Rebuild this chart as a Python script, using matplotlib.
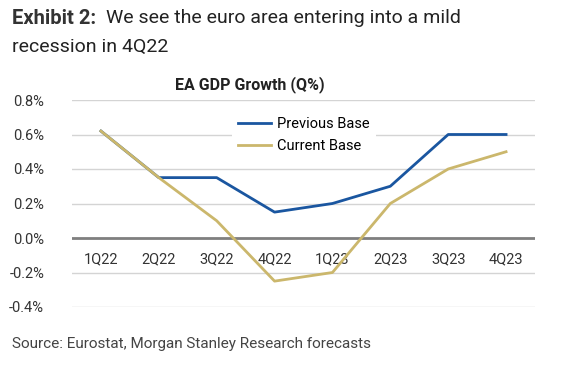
import matplotlib.pyplot as plt
from matplotlib.ticker import FuncFormatter

# data
quarters = ['1Q22', '2Q22', '3Q22', '4Q22', '1Q23', '2Q23', '3Q23', '4Q23']
previous_base = [0.62, 0.35, 0.35, 0.15, 0.20, 0.30, 0.60, 0.60]
current_base = [0.62, 0.35, 0.10, -0.25, -0.20, 0.20, 0.40, 0.50]
y_ticks = [-0.4, -0.2, 0.0, 0.2, 0.4, 0.6, 0.8]

chart_font = ['Roboto', 'DejaVu Sans']
plt.rcParams['font.family'] = ['Roboto', 'DejaVu Sans']

fig = plt.figure(figsize=(5.77, 3.78), dpi=100)
ax = fig.add_axes([72 / 577, 1 - 307 / 378, 463 / 577, 207 / 378])

x = list(range(len(quarters)))
ax.plot(x, previous_base, color='#1a56a0', lw=2, label='Previous Base', zorder=3)
ax.plot(x, current_base, color='#cbb76c', lw=2, label='Current Base', zorder=4)

ax.set_xlim(-0.5, len(quarters) - 0.5)
ax.set_ylim(-0.4, 0.8)
ax.set_yticks(y_ticks)
ax.yaxis.set_major_formatter(FuncFormatter(lambda v, p: f'{v:.1f}%'))
for v in y_ticks:
    if v != 0:
        ax.axhline(v, color='#d4d4d4', lw=1, zorder=1)
ax.axhline(0, color='#7f7f7f', lw=2, zorder=2)

ax.set_xticks(x)
ax.set_xticklabels(quarters)
for s in ax.spines.values():
    s.set_visible(False)
ax.spines['bottom'].set_position(('data', 0))
ax.tick_params(axis='both', length=0, labelsize=10.5, colors='#333333')
ax.tick_params(axis='x', pad=10)
ax.tick_params(axis='y', pad=20)

leg = ax.legend(loc='upper left', bbox_to_anchor=(0.33, 0.98), frameon=True,
                fancybox=False, edgecolor='none', facecolor='white', framealpha=1,
                handlelength=2.3, handletextpad=0.4, labelspacing=0.55,
                prop={'family': chart_font, 'size': 10.5})
leg.set_zorder(5)

fig.text(250 / 577, 1 - 85 / 378, 'EA GDP Growth (Q%)', ha='center', va='center',
         fontsize=11.5, fontweight='bold', family=chart_font, color='#222222')

fig.text(12 / 577, 1 - 18 / 378, 'Exhibit 2:', fontsize=14.5, fontweight='bold',
         va='center', color='#333333')
fig.text(106 / 577, 1 - 18 / 378, 'We see the euro area entering into a mild',
         fontsize=14, va='center', color='#222222')
fig.text(12 / 577, 1 - 47 / 378, 'recession in 4Q22', fontsize=14, va='center',
         color='#222222')
fig.text(12 / 577, 1 - 344 / 378, 'Source: Eurostat, Morgan Stanley Research forecasts',
         fontsize=11, va='center', color='#444444')

fig.savefig('out.png', dpi=100)
